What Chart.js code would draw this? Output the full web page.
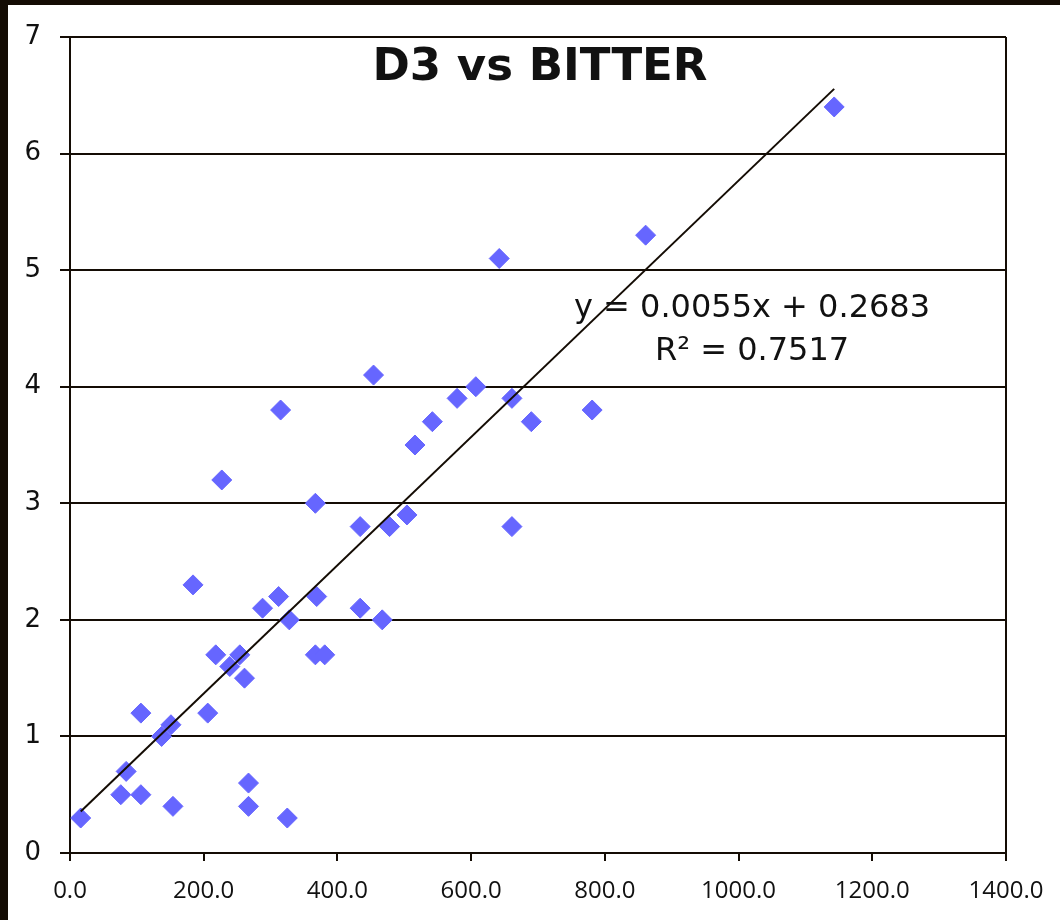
<!DOCTYPE html>
<html><head><meta charset="utf-8">
<script src="https://cdn.jsdelivr.net/npm/chart.js@4.4.1/dist/chart.umd.min.js"></script>
<style>html,body{margin:0;padding:0;background:#fff;}#wrap{width:1060px;height:920px;position:relative;}</style>
</head><body><div id="wrap"><canvas id="c" width="1060" height="920"></canvas></div>
<script>
const chartTitle = 'D3 vs BITTER';
const bitter = [16, 76, 84, 106, 106, 137, 151, 154, 184, 206, 218, 227, 239, 254, 261, 267, 267, 288, 312, 315, 328, 325, 367, 369, 367, 381, 434, 434, 454, 467, 478, 504, 516, 542, 579, 607, 642, 661, 661, 690, 781, 861, 1143];
const d3 = [0.3, 0.5, 0.7, 0.5, 1.2, 1.0, 1.1, 0.4, 2.3, 1.2, 1.7, 3.2, 1.6, 1.7, 1.5, 0.6, 0.4, 2.1, 2.2, 3.8, 2.0, 0.3, 3.0, 2.2, 1.7, 1.7, 2.8, 2.1, 4.1, 2.0, 2.8, 2.9, 3.5, 3.7, 3.9, 4.0, 5.1, 3.9, 2.8, 3.7, 3.8, 5.3, 6.4];
const xTickValues = [0, 200, 400, 600, 800, 1000, 1200, 1400];
const yTickValues = [0, 1, 2, 3, 4, 5, 6, 7];
const trendSlope = 0.0055;
const trendIntercept = 0.2683;
const trendR2 = '0.7517';

const dark = '#140c04';
const pointColor = '#6666ff';

const points = bitter.map((x, i) => ({x: x, y: d3[i]}));
const xMin = Math.min(...bitter), xMax = Math.max(...bitter);
const trend = [xMin, xMax].map(x => ({x: x, y: trendSlope * x + trendIntercept}));

const decor = {
  id: 'decor',
  beforeDraw(chart) {
    const c = chart.ctx;
    c.save();
    c.fillStyle = dark;
    c.fillRect(0, 0, chart.width, chart.height);
    c.fillStyle = '#ffffff';
    c.fillRect(8, 5, chart.width - 8, chart.height - 5);
    c.restore();
  },
  afterDraw(chart) {
    const c = chart.ctx;
    const a = chart.chartArea;
    c.save();
    c.fillStyle = '#111';
    c.textAlign = 'center';
    c.textBaseline = 'alphabetic';
    c.font = 'bold 45px "DejaVu Sans"';
    c.fillText(chartTitle, (a.left + a.right) / 2 + 2, 80);
    c.font = '32px "DejaVu Sans"';
    c.fillText('y = ' + trendSlope.toFixed(4) + 'x + ' + trendIntercept.toFixed(4), 752, 317);
    c.fillText('R\u00B2 = ' + trendR2, 752, 360);
    c.restore();
  }
};

new Chart(document.getElementById('c'), {
  type: 'scatter',
  data: {
    datasets: [
      {
        type: 'line',
        data: trend,
        borderColor: dark,
        borderWidth: 2,
        pointRadius: 0,
        fill: false,
        order: 0
      },
      {
        data: points,
        pointStyle: 'rectRot',
        pointRadius: 10,
        pointHoverRadius: 10,
        backgroundColor: pointColor,
        borderColor: pointColor,
        borderWidth: 1,
        order: 1
      }
    ]
  },
  options: {
    responsive: false,
    animation: false,
    devicePixelRatio: 1,
    events: [],
    layout: {padding: {left: 8, top: 37, right: 54, bottom: 0}},
    plugins: {legend: {display: false}, tooltip: {enabled: false}, title: {display: false}},
    scales: {
      x: {
        type: 'linear',
        min: 0, max: 1400,
        afterBuildTicks(s) { s.ticks = xTickValues.map(v => ({value: v})); },
        afterFit(s) { s.height = 67; },
        ticks: {
          color: '#111',
          font: {family: '"Open Sans"', size: 24},
          padding: 16,
          maxRotation: 0,
          autoSkip: false,
          callback: v => Number(v).toFixed(1)
        },
        grid: {
          color: ctx => (ctx.tick && ctx.tick.value === 1400) ? dark : 'rgba(0,0,0,0)',
          tickColor: dark,
          lineWidth: 2,
          tickLength: 8
        },
        border: {display: true, color: dark, width: 2}
      },
      y: {
        type: 'linear',
        min: 0, max: 7,
        afterBuildTicks(s) { s.ticks = yTickValues.map(v => ({value: v})); },
        afterFit(s) { s.width = 62; },
        ticks: {
          color: '#111',
          font: {family: '"DejaVu Sans"', size: 26},
          padding: 19,
          autoSkip: false,
          callback: v => String(v)
        },
        grid: {color: dark, tickColor: dark, lineWidth: 2, tickLength: 10},
        border: {display: true, color: dark, width: 2}
      }
    }
  },
  plugins: [decor]
});
</script></body></html>
